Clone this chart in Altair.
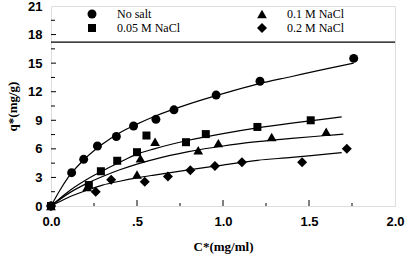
import altair as alt
import pandas as pd

# Measured isotherm points (C* in mg/ml, q* in mg/g)
no_salt_c = [0.0, 0.12, 0.19, 0.27, 0.38, 0.48, 0.61, 0.715, 0.96, 1.215, 1.76]
no_salt_q = [0.0, 3.5, 4.9, 6.3, 7.3, 8.4, 9.1, 10.1, 11.65, 13.1, 15.5]

nacl005_c = [0.0, 0.22, 0.29, 0.385, 0.50, 0.555, 0.785, 0.90, 1.20, 1.51]
nacl005_q = [0.0, 2.2, 3.65, 4.75, 5.65, 7.4, 6.7, 7.55, 8.3, 9.0]

nacl01_c = [0.0, 0.21, 0.50, 0.52, 0.605, 0.856, 0.973, 1.283, 1.60]
nacl01_q = [0.0, 2.0, 3.3, 5.0, 6.75, 5.85, 6.6, 7.25, 7.8]

nacl02_c = [0.0, 0.26, 0.35, 0.545, 0.68, 0.81, 0.953, 1.11, 1.46, 1.72]
nacl02_q = [0.0, 1.5, 2.75, 2.55, 3.1, 3.75, 4.2, 4.6, 4.6, 6.0]

# Fitted isotherm curves
fit_no_salt_c = [0.0, 0.05, 0.1, 0.2, 0.3, 0.4, 0.5, 0.6, 0.8, 1.0, 1.2, 1.4, 1.6, 1.76]
fit_no_salt_q = [0.0, 1.6, 3.0, 5.0, 6.5, 7.7, 8.6, 9.4, 10.7, 11.8, 12.8, 13.6, 14.4, 15.0]

fit_005_c = [0.0, 0.1, 0.2, 0.3, 0.4, 0.5, 0.6, 0.8, 1.0, 1.2, 1.4, 1.6, 1.69]
fit_005_q = [0.0, 1.5, 2.7, 3.7, 4.6, 5.45, 6.0, 6.9, 7.6, 8.2, 8.7, 9.15, 9.35]

fit_01_c = [0.0, 0.1, 0.2, 0.3, 0.4, 0.5, 0.6, 0.8, 1.0, 1.2, 1.4, 1.6, 1.70]
fit_01_q = [0.0, 1.3, 2.3, 3.1, 3.8, 4.4, 4.9, 5.7, 6.3, 6.75, 7.1, 7.4, 7.55]

fit_02_c = [0.0, 0.1, 0.2, 0.3, 0.4, 0.5, 0.6, 0.8, 1.0, 1.2, 1.4, 1.6, 1.69]
fit_02_q = [0.0, 0.9, 1.6, 2.2, 2.6, 2.95, 3.25, 3.8, 4.3, 4.8, 5.1, 5.45, 5.6]

series_names = ["No salt", "0.05 M NaCl", "0.1 M NaCl", "0.2 M NaCl"]
series_shapes = ["circle", "square", "triangle-up", "diamond"]
series_sizes = [80, 64, 95, 100]

x_major = [0.5, 1.0, 1.5]
x_minor = [0.25, 0.75, 1.25, 1.75]
y_major = [3, 6, 9, 12, 15, 18]
y_minor = [1.5, 4.5, 7.5, 10.5, 13.5, 16.5, 19.5]
legend_divider_q = 17.2

W, H = 344, 200

points = [
    (no_salt_c, no_salt_q), (nacl005_c, nacl005_q),
    (nacl01_c, nacl01_q), (nacl02_c, nacl02_q),
]
fits = [
    (fit_no_salt_c, fit_no_salt_q), (fit_005_c, fit_005_q),
    (fit_01_c, fit_01_q), (fit_02_c, fit_02_q),
]

x_scale = alt.Scale(domain=[0, 2.0], nice=False, zero=False)
y_scale = alt.Scale(domain=[0, 21], nice=False, zero=False)

x_axis = alt.Axis(
    values=[0, 0.5, 1.0, 1.5, 2.0],
    labelExpr="datum.value == 0.5 ? '.5' : format(datum.value, '.1f')",
    ticks=False, domain=False, grid=False, labelFlush=False,
    labelFont="Liberation Sans", labelFontWeight="bold", labelFontSize=13,
    labelColor="black", labelPadding=9,
    title="C*(mg/ml)", titleFont="Liberation Serif", titleFontSize=13,
    titleFontWeight="bold", titleColor="black", titlePadding=12,
)
y_axis = alt.Axis(
    values=[0, 3, 6, 9, 12, 15, 18, 21],
    ticks=False, domain=False, grid=False, labelFlush=False,
    labelFont="Liberation Sans", labelFontWeight="bold", labelFontSize=13,
    labelColor="black", labelPadding=9,
    title="q*(mg/g)", titleFont="Liberation Serif", titleFontSize=13,
    titleFontWeight="bold", titleColor="black", titlePadding=8,
)


def X(field="c"):
    return alt.X(f"{field}:Q", scale=x_scale, axis=x_axis)


def Y(field="q"):
    return alt.Y(f"{field}:Q", scale=y_scale, axis=y_axis)


layers = []
for (fc, fq) in fits:
    df = pd.DataFrame({"c": fc, "q": fq})
    layers.append(
        alt.Chart(df).mark_line(color="black", strokeWidth=1.2, interpolate="monotone")
        .encode(x=X(), y=Y())
    )

for (pc, pq), shape, size in zip(points, series_shapes, series_sizes):
    df = pd.DataFrame({"c": pc, "q": pq})
    layers.append(
        alt.Chart(df).mark_point(shape=shape, filled=True, color="black", opacity=1, size=size)
        .encode(x=X(), y=Y())
    )


# Inward tick marks on the bottom and left edges
def x_ticks(vals, length):
    df = pd.DataFrame({"c": vals})
    return alt.Chart(df).mark_rule(color="black", strokeWidth=1).encode(
        x=X(), y=alt.value(H), y2=alt.value(H - length),
    )


def y_ticks(vals, length):
    df = pd.DataFrame({"q": vals})
    return alt.Chart(df).mark_rule(color="black", strokeWidth=1).encode(
        y=Y(), x=alt.value(0), x2=alt.value(length),
    )


layers += [x_ticks(x_major, 6), x_ticks(x_minor, 3), y_ticks(y_major, 5), y_ticks(y_minor, 4)]

# Legend strip across the top
layers.append(
    alt.Chart(pd.DataFrame({"q": [legend_divider_q]})).mark_rule(color="black", strokeWidth=1.2)
    .encode(y=Y(), x=alt.value(0), x2=alt.value(W))
)

legend_pos = [(41, 8), (41, 22), (211, 8), (211, 22)]
for name, shape, size, (lx, ly) in zip(series_names, series_shapes, series_sizes, legend_pos):
    layers.append(
        alt.Chart(pd.DataFrame({"label": [name]})).mark_point(
            shape=shape, filled=True, color="black", opacity=1, size=size
        ).encode(x=alt.value(lx), y=alt.value(ly))
    )
    layers.append(
        alt.Chart(pd.DataFrame({"label": [name]})).mark_text(
            align="left", baseline="middle", font="Liberation Serif", fontSize=12, color="black"
        ).encode(x=alt.value(lx + 25), y=alt.value(ly), text="label:N")
    )

chart = (
    alt.layer(*layers)
    .properties(width=W, height=H, padding={"left": 51, "top": 6, "right": 15, "bottom": 54},
                autosize=alt.AutoSizeParams(type="none"))
    .configure_view(stroke="black", strokeWidth=1.2)
    .configure(background="white")
)

chart.save("out.html", embed_options={"renderer": "svg", "actions": False})
